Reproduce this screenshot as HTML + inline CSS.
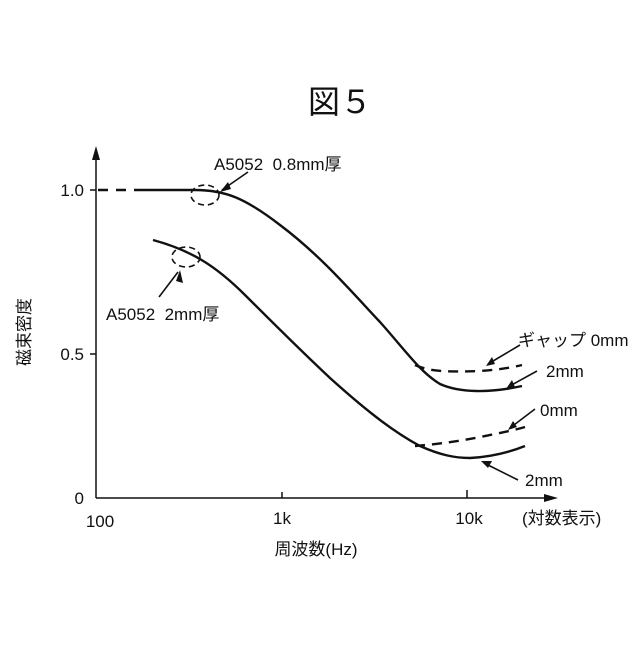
<!DOCTYPE html>
<html><head><meta charset="utf-8"><style>
body{margin:0;background:#fff}
svg text{font-family:"Liberation Sans","Noto Sans CJK JP",sans-serif;fill:#111}
</style></head><body>
<svg width="640" height="640" viewBox="0 0 640 640" xmlns="http://www.w3.org/2000/svg">
<text x="340" y="113" font-size="32" text-anchor="middle">図５</text>
<g stroke="#111" fill="none" stroke-width="1.5">
<line x1="96" y1="152" x2="96" y2="498"/>
<line x1="96" y1="498" x2="552" y2="498"/>
<line x1="282" y1="492" x2="282" y2="498"/>
<line x1="467" y1="490" x2="467" y2="498"/>
<line x1="90" y1="190" x2="96" y2="190"/>
<line x1="90" y1="354" x2="96" y2="354"/>
</g>
<polygon points="96,146 92,160 100,160" fill="#111"/>
<polygon points="558,498 544,494 544,502" fill="#111"/>
<g stroke="#111" fill="none" stroke-width="2.4">
<path d="M98,190 H142" stroke-dasharray="10,8"/>
<path d="M142,190 H195 C225,190 245,198 280,225 C320,255 350,290 380,322 C405,350 420,372 440,384 C460,393 490,393 522,386"/>
<path d="M415,365 C430,372 450,372 480,371 C495,370 510,368 522,365" stroke-dasharray="10,7"/>
<path d="M153,240 C190,250 215,265 245,295 C275,325 300,350 330,378 C360,405 390,430 420,446 C440,455 455,458 470,458 C490,457 510,452 525,446"/>
<path d="M415,446 C440,444 460,441 480,437 C500,433 515,430 525,427" stroke-dasharray="10,7"/>
</g>
<g stroke="#111" fill="none" stroke-width="1.6">
<ellipse cx="205" cy="195" rx="14" ry="10" stroke-dasharray="6,4"/>
<ellipse cx="186" cy="257" rx="14" ry="10" stroke-dasharray="6,4"/>
<line x1="248" y1="172" x2="222" y2="190"/>
<line x1="159" y1="297" x2="178" y2="272"/>
<line x1="520" y1="345" x2="488" y2="364"/>
<line x1="537" y1="371" x2="508" y2="387"/>
<line x1="535" y1="409" x2="510" y2="428"/>
<line x1="518" y1="480" x2="484" y2="463"/>
</g>
<g fill="#111">
<polygon points="220,192 228,182 231,189"/>
<polygon points="180,270 176,281 183,283"/>
<polygon points="486,366 492,357 495,364"/>
<polygon points="506,389 512,380 515,387"/>
<polygon points="508,430 513,421 517,427"/>
<polygon points="481,461 492,461 488,468"/>
</g>
<g font-size="17">
<text x="214" y="170">A5052&#160;&#160;0.8mm厚</text>
<text x="106" y="320">A5052&#160;&#160;2mm厚</text>
<text x="518" y="346">ギャップ 0mm</text>
<text x="546" y="377">2mm</text>
<text x="540" y="416">0mm</text>
<text x="525" y="486">2mm</text>
<text x="84" y="196" text-anchor="end">1.0</text>
<text x="84" y="360" text-anchor="end">0.5</text>
<text x="84" y="504" text-anchor="end">0</text>
<text x="100" y="527" text-anchor="middle">100</text>
<text x="282" y="524" text-anchor="middle">1k</text>
<text x="469" y="524" text-anchor="middle">10k</text>
<text x="522" y="524">(対数表示)</text>
<text x="316" y="555" text-anchor="middle">周波数(Hz)</text>
<text transform="translate(30,332) rotate(-90)" text-anchor="middle">磁束密度</text>
</g>
</svg>
</body></html>
